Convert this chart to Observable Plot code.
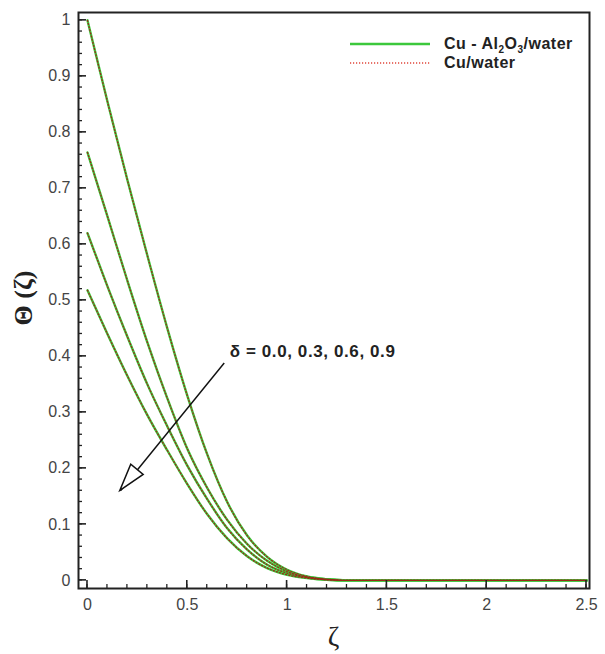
<!DOCTYPE html>
<html><head><meta charset="utf-8">
<script src="https://cdn.jsdelivr.net/npm/d3@7"></script>
<script src="https://cdn.jsdelivr.net/npm/@observablehq/plot@0.6"></script>
<style>body{margin:0;background:#fff}#chart{position:relative;width:605px;height:654px}</style>
</head><body><div id="chart"></div>
<script>
// ---- data ----
const zeta = [0, 0.1, 0.2, 0.3, 0.4, 0.5, 0.6, 0.7, 0.8, 0.9, 1.0, 1.1, 1.2, 1.3, 1.5, 2.0, 2.5];
const thetaDelta00 = [1.0, 0.855, 0.715, 0.58, 0.45, 0.33, 0.225, 0.14, 0.08, 0.042, 0.019, 0.007, 0.002, 0, 0, 0, 0];
const thetaDelta03 = [0.764, 0.65, 0.535, 0.425, 0.325, 0.235, 0.165, 0.108, 0.065, 0.035, 0.016, 0.006, 0.002, 0, 0, 0, 0];
const thetaDelta06 = [0.62, 0.525, 0.435, 0.35, 0.275, 0.205, 0.145, 0.093, 0.055, 0.028, 0.013, 0.005, 0.001, 0, 0, 0, 0];
const thetaDelta09 = [0.518, 0.44, 0.365, 0.295, 0.232, 0.172, 0.118, 0.075, 0.043, 0.022, 0.01, 0.004, 0.001, 0, 0, 0, 0];
// Cu/water curves lie on top of the hybrid curves in the picture
const cuThetaDelta00 = [1.0, 0.855, 0.715, 0.58, 0.45, 0.33, 0.225, 0.14, 0.08, 0.042, 0.019, 0.007, 0.002, 0, 0, 0, 0];
const cuThetaDelta03 = [0.764, 0.65, 0.535, 0.425, 0.325, 0.235, 0.165, 0.108, 0.065, 0.035, 0.016, 0.006, 0.002, 0, 0, 0, 0];
const cuThetaDelta06 = [0.62, 0.525, 0.435, 0.35, 0.275, 0.205, 0.145, 0.093, 0.055, 0.028, 0.013, 0.005, 0.001, 0, 0, 0, 0];
const cuThetaDelta09 = [0.518, 0.44, 0.365, 0.295, 0.232, 0.172, 0.118, 0.075, 0.043, 0.022, 0.01, 0.004, 0.001, 0, 0, 0, 0];
const deltas = ["0.0", "0.3", "0.6", "0.9"];
const xTicks = [0, 0.5, 1, 1.5, 2, 2.5];
const yTicks = [0, 0.1, 0.2, 0.3, 0.4, 0.5, 0.6, 0.7, 0.8, 0.9, 1];
const annotationText = "δ = 0.0, 0.3, 0.6, 0.9";
const arrowFrom = [0.685, 0.388];
const arrowTo = [0.165, 0.16];

// ---- build tables ----
const hybridSeries = [thetaDelta00, thetaDelta03, thetaDelta06, thetaDelta09];
const cuSeries = [cuThetaDelta00, cuThetaDelta03, cuThetaDelta06, cuThetaDelta09];
const toRows = (series) => series.flatMap((vals, i) => vals.map((v, j) => ({delta: deltas[i], x: zeta[j], y: v})));
const hybridRows = toRows(hybridSeries);
const cuRows = toRows(cuSeries);

const W = 605, H = 654, mL = 78, mR = 16, mT = 12, mB = 66;
const plotW = W - mL - mR, plotH = H - mT - mB;
const xMinor = d3.range(0, 26).map(i => +(i * 0.1).toFixed(2));
const yMinor = d3.range(0, 51).map(i => +(i * 0.02).toFixed(2));
const FONT = "'Liberation Sans', Arial, sans-serif";

const svg = Plot.plot({
  width: W, height: H,
  marginLeft: mL, marginRight: mR, marginTop: mT, marginBottom: mB,
  style: {fontFamily: FONT, fontSize: "15px", color: "#444", background: "#fff"},
  x: {domain: [-0.045, 2.515]},
  y: {domain: [-0.0145, 1.014]},
  marks: [
    Plot.line(hybridRows, {x: "x", y: "y", z: "delta", stroke: "#3cc83c", strokeWidth: 2.4, curve: "monotone-x"}),
    Plot.line(cuRows, {x: "x", y: "y", z: "delta", stroke: "#9a2a18", strokeWidth: 1.3, strokeDasharray: "1,2.2", curve: "monotone-x"}),
    Plot.axisX({ticks: xTicks, tickSize: 0, tickPadding: 10, tickFormat: d => String(d), label: null, fontSize: 16}),
    Plot.axisY({ticks: yTicks, tickSize: 0, tickPadding: 8, tickFormat: d => String(d), label: null, fontSize: 16}),
    Plot.link([0], {x1: () => arrowFrom[0], y1: () => arrowFrom[1], x2: () => arrowTo[0], y2: () => arrowTo[1], stroke: "#111", strokeWidth: 1.5}),
    Plot.frame({stroke: "#222", strokeWidth: 2})
  ]
});
document.getElementById("chart").append(svg);

const sx = svg.scale("x"), sy = svg.scale("y");
const g = d3.select(svg).append("g").attr("text-anchor", "start");
const xLeft = mL, yBottom = H - mB;

// inward ticks (positions from Plot's scales)
const tg = g.append("g").attr("stroke", "#222");
xMinor.forEach(v => { const px = sx.apply(v); tg.append("line").attr("x1", px).attr("x2", px).attr("y1", yBottom).attr("y2", yBottom - 4).attr("stroke-width", 1.3); });
xTicks.forEach(v => { const px = sx.apply(v); tg.append("line").attr("x1", px).attr("x2", px).attr("y1", yBottom).attr("y2", yBottom - 8).attr("stroke-width", 1.6); });
yMinor.forEach(v => { const py = sy.apply(v); tg.append("line").attr("x1", xLeft).attr("x2", xLeft + 4).attr("y1", py).attr("y2", py).attr("stroke-width", 1.3); });
yTicks.forEach(v => { const py = sy.apply(v); tg.append("line").attr("x1", xLeft).attr("x2", xLeft + 8).attr("y1", py).attr("y2", py).attr("stroke-width", 1.6); });

// hollow arrowhead
const tx = sx.apply(arrowTo[0]), ty = sy.apply(arrowTo[1]);
const fx = sx.apply(arrowFrom[0]), fy = sy.apply(arrowFrom[1]);
const len = Math.hypot(fx - tx, fy - ty);
const ux = (fx - tx) / len, uy = (fy - ty) / len;
const hl = 27, hw = 8;
const bx = tx + ux * hl, by = ty + uy * hl;
g.append("polygon")
  .attr("points", [[tx, ty], [bx - uy * hw, by + ux * hw], [bx + uy * hw, by - ux * hw]].map(p => p.join(",")).join(" "))
  .attr("fill", "#fff").attr("stroke", "#111").attr("stroke-width", 1.5);

// annotation text
g.append("text").attr("x", fx + 6).attr("y", fy - 6)
  .attr("font-family", FONT).attr("font-weight", "bold").attr("font-size", 17).attr("letter-spacing", 0.6)
  .attr("fill", "#222").text(annotationText);

// legend
const legX = 350, legY1 = 44, legY2 = 63;
g.append("line").attr("x1", legX).attr("x2", legX + 80).attr("y1", legY1).attr("y2", legY1)
  .attr("stroke", "#3cc83c").attr("stroke-width", 2.4);
g.append("line").attr("x1", legX).attr("x2", legX + 80).attr("y1", legY2).attr("y2", legY2)
  .attr("stroke", "#e0453a").attr("stroke-width", 1.6).attr("stroke-dasharray", "1.2,1.8");
const lt1 = g.append("text").attr("x", legX + 94).attr("y", legY1 + 5)
  .attr("font-family", FONT).attr("font-weight", "bold").attr("font-size", 16).attr("letter-spacing", 0.5).attr("fill", "#222");
lt1.append("tspan").text("Cu - Al");
lt1.append("tspan").attr("dy", 4).attr("font-size", 10).text("2");
lt1.append("tspan").attr("dy", -4).text("O");
lt1.append("tspan").attr("dy", 4).attr("font-size", 10).text("3");
lt1.append("tspan").attr("dy", -4).text("/water");
g.append("text").attr("x", legX + 94).attr("y", legY2 + 5)
  .attr("font-family", FONT).attr("font-weight", "bold").attr("font-size", 16).attr("letter-spacing", 0.5).attr("fill", "#222")
  .text("Cu/water");

// axis titles
g.append("text").attr("x", mL + plotW / 2).attr("y", 646).attr("text-anchor", "middle")
  .attr("font-family", "'Liberation Serif', 'DejaVu Serif', serif").attr("font-size", 28).attr("fill", "#222").text("ζ");
g.append("text").attr("transform", "translate(32,298) rotate(-90)").attr("text-anchor", "middle")
  .attr("font-family", "'Liberation Serif', 'DejaVu Serif', serif").attr("font-weight", "bold").attr("font-size", 26).attr("fill", "#222").text("Θ (ζ)");
</script>
</body></html>
